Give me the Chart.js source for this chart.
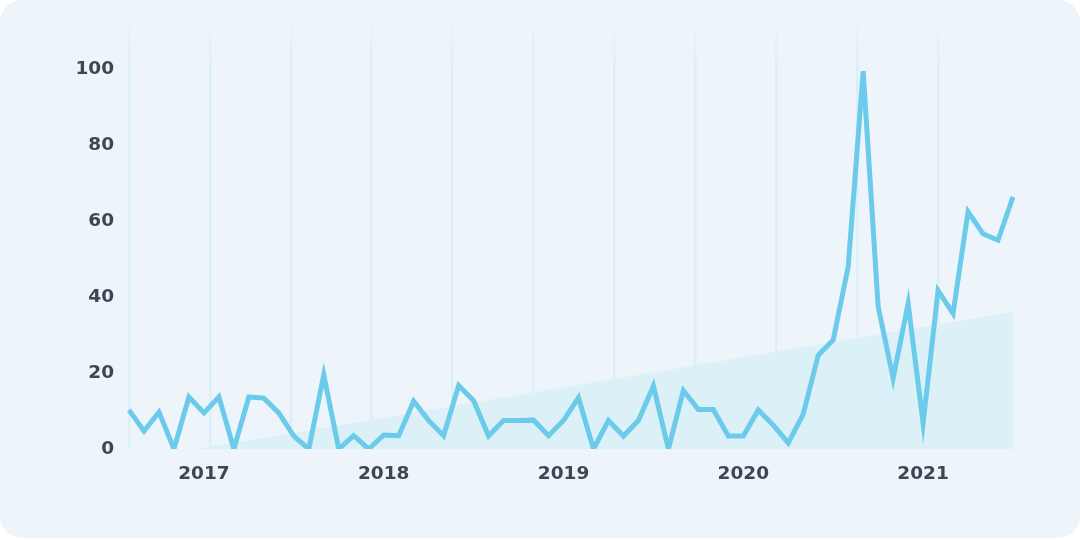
<!DOCTYPE html>
<html>
<head>
<meta charset="utf-8">
<script src="https://cdn.jsdelivr.net/npm/chart.js@4/dist/chart.umd.min.js"></script>
<style>
  html, body { margin: 0; padding: 0; background: #ffffff; }
  #card { position: absolute; left: 0; top: 0; width: 1080px; height: 538px; background: #edf5fb; border-radius: 22px; }
  #wrap { position: absolute; left: 0; top: 0; width: 1080px; height: 540px; }
</style>
</head>
<body>
<div id="card"></div>
<div id="wrap"><canvas id="c"></canvas></div>
<script>
const months = [
  '2016-08','2016-09','2016-10','2016-11','2016-12',
  '2017-01','2017-02','2017-03','2017-04','2017-05','2017-06','2017-07','2017-08','2017-09','2017-10','2017-11','2017-12',
  '2018-01','2018-02','2018-03','2018-04','2018-05','2018-06','2018-07','2018-08','2018-09','2018-10','2018-11','2018-12',
  '2019-01','2019-02','2019-03','2019-04','2019-05','2019-06','2019-07','2019-08','2019-09','2019-10','2019-11','2019-12',
  '2020-01','2020-02','2020-03','2020-04','2020-05','2020-06','2020-07','2020-08','2020-09','2020-10','2020-11','2020-12',
  '2021-01','2021-02','2021-03','2021-04','2021-05','2021-06','2021-07'
];
const interest = [
  10.3, 4.7, 9.7, 0, 13.7, 9.5, 13.7, 0, 13.7, 13.4,
  9.5, 3.4, 0, 19.5, 0, 3.5, 0, 3.7, 3.5, 12.6,
  7.5, 3.5, 16.7, 12.7, 3.4, 7.5, 7.5, 7.6, 3.5, 7.5,
  13.5, 0, 7.5, 3.4, 7.5, 16.6, 0, 15.4, 10.4, 10.4,
  3.4, 3.4, 10.3, 6.3, 1.6, 9.2, 24.7, 28.7, 48.0, 99.5,
  37.5, 18.6, 38.3, 6.8, 41.7, 35.7, 62.5, 56.7, 55.0, 66.4
];
const trendMonths = ['2016-08', '2021-07'];
const trendValues = [-3.0, 36.1];
const yTicks = [0, 20, 40, 60, 80, 100];

const FONT = { family: 'DejaVu Sans', size: 18.5, weight: 'bold' };
const TEXT = '#3e4653';

new Chart(document.getElementById('c'), {
  type: 'line',
  data: {
    labels: months,
    datasets: [
      {
        label: 'Interest',
        data: interest,
        borderColor: '#6ccbea',
        borderWidth: 5,
        pointRadius: 0,
        tension: 0,
        fill: false,
        order: 0
      },
      {
        label: 'Trend',
        data: trendMonths.map((m, i) => ({ x: m, y: trendValues[i] })),
        borderWidth: 0,
        borderColor: 'rgba(0,0,0,0)',
        backgroundColor: '#dcf0f8',
        pointRadius: 0,
        fill: 'origin',
        order: 1
      }
    ]
  },
  options: {
    responsive: true,
    maintainAspectRatio: false,
    animation: false,
    layout: { padding: { left: 0, right: 67, top: 20, bottom: 0 } },
    plugins: { legend: { display: false }, tooltip: { enabled: false } },
    scales: {
      x: {
        type: 'category',
        offset: false,
        grid: { display: false },
        border: { display: false },
        ticks: {
          autoSkip: false,
          maxRotation: 0,
          padding: 6,
          color: TEXT,
          font: FONT,
          callback: function (v) {
            const m = this.getLabelForValue(v);
            return m.endsWith('-01') ? m.slice(0, 4) : '';
          }
        },
        afterFit: (s) => { s.height = 91; s.paddingLeft = 0; s.paddingRight = 0; }
      },
      xg: {
        type: 'linear',
        position: 'top',
        min: 0,
        max: 10.93,
        grid: {
          drawTicks: false,
          lineWidth: 2.5,
          color: (ctx) => {
            const ca = ctx.chart.chartArea;
            if (!ca) return '#dbeef9';
            const g = ctx.chart.ctx.createLinearGradient(0, ca.top - 5, 0, ca.top + 50);
            g.addColorStop(0, 'rgba(219,238,249,0)');
            g.addColorStop(1, 'rgba(219,238,249,1)');
            return g;
          }
        },
        border: { display: false },
        ticks: { display: false, stepSize: 1, includeBounds: false },
        afterFit: (s) => { s.height = 0; s.paddingLeft = 0; s.paddingRight = 0; }
      },
      y: {
        min: 0,
        max: 113,
        grid: { display: false },
        border: { display: false },
        afterBuildTicks: (s) => { s.ticks = yTicks.map(v => ({ value: v })); },
        ticks: {
          padding: 7,
          color: TEXT,
          font: FONT
        },
        afterFit: (s) => { s.width = 129; s.paddingTop = 0; s.paddingBottom = 0; }
      }
    }
  }
});
</script>
</body>
</html>
